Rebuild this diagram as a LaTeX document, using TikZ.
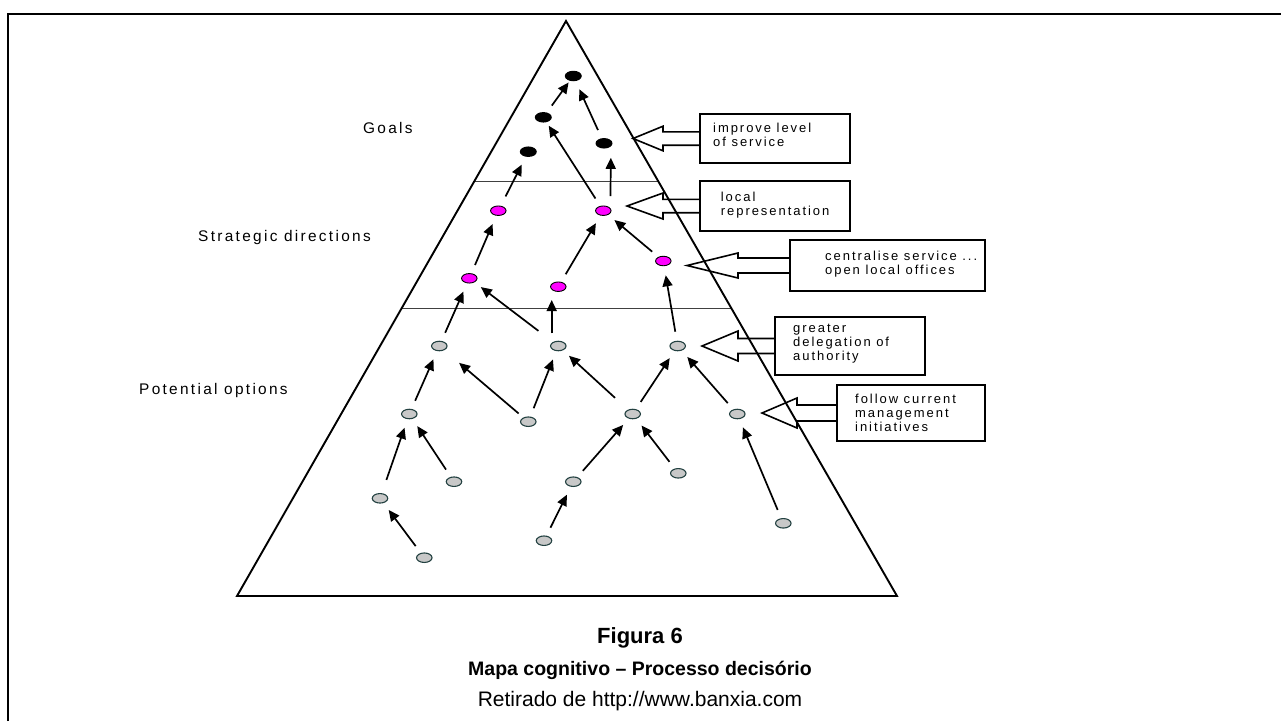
\documentclass[tikz,border=0pt]{standalone}
\usepackage{fontspec}
\setmainfont{Liberation Sans}
\usetikzlibrary{arrows.meta,shapes.geometric,calc}

\definecolor{optfill}{RGB}{200,200,200}
\definecolor{optedge}{RGB}{35,65,65}
\definecolor{stratfill}{RGB}{255,0,255}

% outline of a text box with a block arrow pointing left from its west side
% #1 box node, #2 half shaft height, #3 half head height, #4 head base offset, #5 tip offset
\newcommand\calloutshape[5]{%
  \draw[callout] ($(#1.west)+(0,#2)$) -- (#1.north west) -- (#1.north east)
    -- (#1.south east) -- (#1.south west) -- ($(#1.west)+(0,-#2)$)
    -- ($(#1.west)+(-#4,-#2)$) -- ($(#1.west)+(-#4,-#3)$)
    -- ($(#1.west)+(-#5,0)$) -- ($(#1.west)+(-#4,#3)$)
    -- ($(#1.west)+(-#4,#2)$) -- cycle;}

\begin{document}
\begin{tikzpicture}[x=1pt,y=-1pt,
  frame/.style={line width=2pt},
  pyramid/.style={line width=1.9pt},
  band/.style={line width=0.9pt, black!75},
  goal/.style={ellipse, fill=black, minimum width=17pt, minimum height=10.5pt, inner sep=0pt},
  strat/.style={ellipse, draw=black, line width=0.9pt, fill=stratfill, minimum width=15.5pt, minimum height=9.5pt, inner sep=0pt},
  option/.style={ellipse, draw=optedge, line width=1.1pt, fill=optfill, minimum width=15.5pt, minimum height=9.5pt, inner sep=0pt},
  link/.style={line width=1.7pt, -{Triangle[length=11pt,width=10pt]}, shorten <=14.5pt, shorten >=14.5pt},
  levellabel/.style={font=\fontsize{15.4}{18}\selectfont\addfontfeature{LetterSpace=15}, anchor=west, inner sep=0pt},
  calloutbox/.style={anchor=north west, inner sep=0pt, outer sep=0pt},
  callout/.style={line width=1.6pt},
  callouttext/.style={font=\fontsize{13}{14}\selectfont\addfontfeature{LetterSpace=15}, align=left, anchor=west, inner sep=0pt},
  captiontitle/.style={font=\fontsize{22}{24}\selectfont\bfseries},
  captionbold/.style={font=\fontsize{19.5}{22}\selectfont\bfseries},
  captionplain/.style={font=\fontsize{21}{24}\selectfont}]

\useasboundingbox (0,0) rectangle (1281,721);

% page frame
\draw[frame] (8,721) -- (8,14) -- (1281,14);

% text boxes on the right
\node[calloutbox, minimum width=150pt, minimum height=49pt] (bImprove) at (700,114) {};
\node[calloutbox, minimum width=150pt, minimum height=50pt] (bLocal) at (700,181) {};
\node[calloutbox, minimum width=195pt, minimum height=51pt] (bCentral) at (790,240) {};
\node[calloutbox, minimum width=150pt, minimum height=58pt] (bGreater) at (775,317) {};
\node[calloutbox, minimum width=148pt, minimum height=56pt] (bFollow) at (837,385) {};

\calloutshape{bImprove}{6.7}{12.3}{37}{67}
\calloutshape{bLocal}{6.7}{13}{37}{73}
\calloutshape{bCentral}{7.5}{12.5}{52}{103}
\calloutshape{bGreater}{7.5}{15}{37}{73}
\calloutshape{bFollow}{8}{15}{40}{75}

\node[callouttext] (tImprove) at ($(bImprove.west)+(13,-3.7)$) {improve level\\of service};
\node[callouttext] (tLocal) at ($(bLocal.west)+(20.7,-1)$) {local\\representation};
\node[callouttext] (tCentral) at ($(bCentral.west)+(35,-1.3)$) {centralise service ...\\open local offices};
\node[callouttext] (tGreater) at ($(bGreater.west)+(18,-2)$) {greater\\delegation of\\authority};
\node[callouttext] (tFollow) at ($(bFollow.west)+(18,-0.5)$) {follow current\\management\\initiatives};

% pyramid and its bands
\coordinate (apex) at (566,21);
\coordinate (bl) at (237,596);
\coordinate (br) at (897,596);
\draw[band] ($(apex)!0.2783!(bl)$) -- ($(apex)!0.2783!(br)$);
\draw[band] ($(apex)!0.4991!(bl)$) -- ($(apex)!0.4991!(br)$);
\draw[pyramid] (apex) -- (bl) -- (br) -- cycle;

% level labels
\node[levellabel] (lGoals) at (363,128) {Goals};
\node[levellabel] (lStrat) at (198,238) {Strategic directions};
\node[levellabel] (lOpt) at (139,391) {Potential options};

% goals
\node[goal] (A1) at (573.3,76) {};
\node[goal] (A2) at (543.3,117.3) {};
\node[goal] (A3) at (528.3,151.7) {};
\node[goal] (A4) at (604,143.3) {};

% strategic directions
\node[strat] (M1) at (498.3,210.7) {};
\node[strat] (M2) at (603.3,210.7) {};
\node[strat] (M3) at (469.3,278.3) {};
\node[strat] (M4) at (558.3,286.7) {};
\node[strat] (M5) at (663.3,261) {};

% potential options
\node[option] (G1) at (439.3,346) {};
\node[option] (G2) at (558.3,346) {};
\node[option] (G3) at (677.7,346) {};
\node[option] (G4) at (409.3,414) {};
\node[option] (G5) at (528.3,421.7) {};
\node[option] (G6) at (632.7,414) {};
\node[option] (G7) at (737.3,414) {};
\node[option] (G8) at (454,481.7) {};
\node[option] (G9) at (573.3,481.7) {};
\node[option] (G10) at (678.3,473.3) {};
\node[option] (G11) at (380,498.3) {};
\node[option] (G12) at (424.3,557.7) {};
\node[option] (G13) at (544,540.7) {};
\node[option] (G14) at (783.3,523.3) {};

% links
\draw[link, shorten >=8pt] (A2.center) -- (A1.center);
\draw[link] (A4.center) -- (A1.center);
\draw[link, shorten <=16pt] (M1.center) -- (A3.center);
\draw[link, shorten >=10pt] (M2.center) -- (A2.center);
\draw[link] ([xshift=7pt]M2.center) -- ([xshift=7pt]A4.center);
\draw[link] (M3.center) -- (M1.center);
\draw[link] (M4.center) -- (M2.center);
\draw[link] (M5.center) -- (M2.center);
\draw[link] (G1.center) -- (M3.center);
\draw[link, shorten <=25pt] (G2.center) -- (M3.center);
\draw[link, shorten <=12.7pt, shorten >=13.3pt] ([xshift=-6.6pt]G2.center) -- ([xshift=-6.6pt]M4.center);
\draw[link] (G3.center) -- (M5.center);
\draw[link] (G4.center) -- (G1.center);
\draw[link, shorten <=12.7pt, shorten >=26pt] (G5.center) -- (G1.center);
\draw[link] (G5.center) -- (G2.center);
\draw[link, shorten <=24pt] (G6.center) -- (G2.center);
\draw[link] (G6.center) -- (G3.center);
\draw[link] (G7.center) -- (G3.center);
\draw[link, shorten <=19.5pt] (G11.center) -- (G4.center);
\draw[link] (G8.center) -- (G4.center);
\draw[link] (G9.center) -- (G6.center);
\draw[link] (G10.center) -- (G6.center);
\draw[link] (G14.center) -- (G7.center);
\draw[link] (G12.center) -- (G11.center);
\draw[link] (G13.center) -- (G9.center);

% caption
\node[captiontitle] (capA) at (640,638) {Figura 6};
\node[captionbold] (capB) at (640,670) {Mapa cognitivo – Processo decisório};
\node[captionplain] (capC) at (640,701) {Retirado de http://www.banxia.com};
\end{tikzpicture}
\end{document}
